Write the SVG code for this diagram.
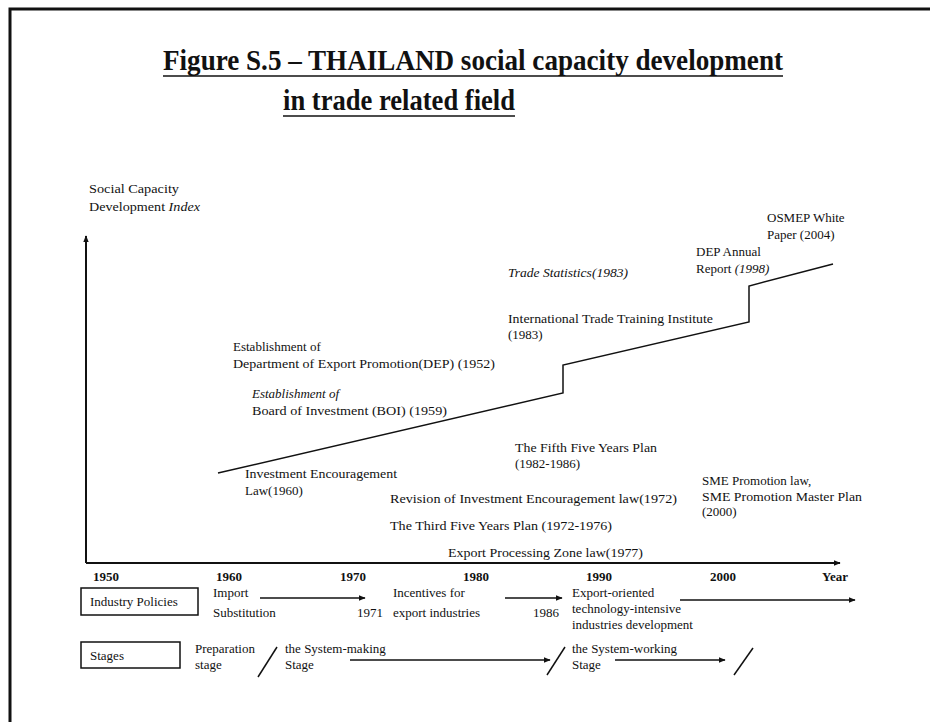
<svg xmlns="http://www.w3.org/2000/svg" width="930" height="722" viewBox="0 0 930 722">
<style>
.t{font-family:"Liberation Serif","Times New Roman",serif;font-size:13px;fill:#111}
.i{font-style:italic}
.b{font-weight:bold}
.title{font-family:"Liberation Serif","Times New Roman",serif;font-size:30px;font-weight:bold;fill:#111}
.ln{stroke:#111;stroke-width:1.5;fill:none}
.ax{stroke:#111;stroke-width:2;fill:none}
.box{stroke:#111;stroke-width:1.5;fill:none}
</style>
<defs>
<marker id="ah" viewBox="0 0 10 10" refX="9" refY="5" markerWidth="7" markerHeight="7" markerUnits="userSpaceOnUse" orient="auto">
<path d="M0,1 L10,5 L0,9 Z" fill="#111"/>
</marker>
</defs>
<rect width="930" height="722" fill="#fff"/>
<!-- frame -->
<path d="M10,722 L10,9 L930,9" stroke="#111" stroke-width="3" fill="none"/>
<!-- title -->
<g id="title">
<text class="title" x="163" y="70" textLength="620" lengthAdjust="spacingAndGlyphs">Figure S.5 – THAILAND social capacity development</text>
<line x1="163" y1="76" x2="783" y2="76" stroke="#111" stroke-width="1.5"/>
<text class="title" x="283" y="110" textLength="232" lengthAdjust="spacingAndGlyphs">in trade related field</text>
<line x1="283" y1="116" x2="515" y2="116" stroke="#111" stroke-width="1.5"/>
</g>
<g id="connectors">
<line class="ax" x1="86" y1="563" x2="86" y2="236" marker-end="url(#ah)"/>
<line class="ax" x1="86" y1="563" x2="840" y2="563" marker-end="url(#ah)"/>
<polyline class="ln" points="218,473 563,393 563,365 749,322 749,286 833,264"/>
<line class="ln" x1="260" y1="598" x2="365" y2="598" marker-end="url(#ah)"/>
<line class="ln" x1="505" y1="598" x2="562" y2="598" marker-end="url(#ah)"/>
<line class="ln" x1="680" y1="600" x2="855" y2="600" marker-end="url(#ah)"/>
<line class="ln" x1="350" y1="660" x2="550" y2="660" marker-end="url(#ah)"/>
<line class="ln" x1="615" y1="660" x2="725" y2="660" marker-end="url(#ah)"/>
<line class="ln" x1="258" y1="677" x2="277" y2="647"/>
<line class="ln" x1="547" y1="675" x2="565" y2="647"/>
<line class="ln" x1="734" y1="675" x2="753" y2="648"/>
</g>
<g id="y-axis-label">
<text class="t" x="89" y="193" textLength="90" lengthAdjust="spacingAndGlyphs">Social Capacity</text>
<text class="t" x="89" y="211" textLength="111" lengthAdjust="spacingAndGlyphs">Development <tspan class="i">Index</tspan></text>
</g>
<g id="x-axis-labels">
<text class="t b" x="93" y="581">1950</text>
<text class="t b" x="216" y="581">1960</text>
<text class="t b" x="340" y="581">1970</text>
<text class="t b" x="463" y="581">1980</text>
<text class="t b" x="586" y="581">1990</text>
<text class="t b" x="710" y="581">2000</text>
<text class="t b" x="822" y="581">Year</text>
</g>
<g id="n-dep">
<text class="t" x="233" y="351">Establishment of</text>
<text class="t" x="233" y="368" textLength="262" lengthAdjust="spacingAndGlyphs">Department of Export Promotion(DEP) (1952)</text>
</g>
<g id="n-boi">
<text class="t i" x="252" y="398">Establishment of</text>
<text class="t" x="252" y="415" textLength="195" lengthAdjust="spacingAndGlyphs">Board of Investment (BOI) (1959)</text>
</g>
<g id="n-iel">
<text class="t" x="245" y="478" textLength="152" lengthAdjust="spacingAndGlyphs">Investment Encouragement</text>
<text class="t" x="245" y="495">Law(1960)</text>
</g>
<g id="n-revision">
<text class="t" x="390" y="503" textLength="287" lengthAdjust="spacingAndGlyphs">Revision of Investment  Encouragement law(1972)</text>
</g>
<g id="n-third">
<text class="t" x="390" y="530" textLength="222" lengthAdjust="spacingAndGlyphs">The Third Five Years Plan (1972-1976)</text>
</g>
<g id="n-epz">
<text class="t" x="448" y="557" textLength="195" lengthAdjust="spacingAndGlyphs">Export Processing Zone law(1977)</text>
</g>
<g id="n-fifth">
<text class="t" x="515" y="452" textLength="142" lengthAdjust="spacingAndGlyphs">The Fifth Five Years Plan</text>
<text class="t" x="515" y="468">(1982-1986)</text>
</g>
<g id="n-sme">
<text class="t" x="702" y="485">SME Promotion law,</text>
<text class="t" x="702" y="501" textLength="160" lengthAdjust="spacingAndGlyphs">SME Promotion Master Plan</text>
<text class="t" x="702" y="516">(2000)</text>
</g>
<g id="n-trade-stats">
<text class="t i" x="508" y="277" textLength="120" lengthAdjust="spacingAndGlyphs">Trade Statistics(1983)</text>
</g>
<g id="n-ittl">
<text class="t" x="508" y="323" textLength="205" lengthAdjust="spacingAndGlyphs">International Trade Training Institute</text>
<text class="t" x="508" y="339">(1983)</text>
</g>
<g id="n-dep-report">
<text class="t" x="696" y="256">DEP Annual</text>
<text class="t" x="696" y="273">Report <tspan class="i">(1998)</tspan></text>
</g>
<g id="n-osmep">
<text class="t" x="767" y="222">OSMEP White</text>
<text class="t" x="767" y="239">Paper (2004)</text>
</g>
<g id="n-industry-policies">
<rect class="box" x="81" y="588" width="117" height="27"/>
<text class="t" x="90" y="606">Industry Policies</text>
</g>
<g id="n-import-sub">
<text class="t" x="213" y="597">Import</text>
<text class="t" x="213" y="617">Substitution</text>
</g>
<g id="n-1971"><text class="t" x="357" y="617">1971</text></g>
<g id="n-incentives">
<text class="t" x="393" y="597">Incentives for</text>
<text class="t" x="393" y="617">export industries</text>
</g>
<g id="n-1986"><text class="t" x="533" y="617">1986</text></g>
<g id="n-export-oriented">
<text class="t" x="572" y="597">Export-oriented</text>
<text class="t" x="572" y="613">technology-intensive</text>
<text class="t" x="572" y="629">industries development</text>
</g>
<g id="n-stages">
<rect class="box" x="81" y="642" width="99" height="26"/>
<text class="t" x="90" y="660">Stages</text>
</g>
<g id="n-preparation">
<text class="t" x="195" y="653">Preparation</text>
<text class="t" x="195" y="669">stage</text>
</g>
<g id="n-system-making">
<text class="t" x="285" y="653">the System-making</text>
<text class="t" x="285" y="669">Stage</text>
</g>
<g id="n-system-working">
<text class="t" x="572" y="653">the System-working</text>
<text class="t" x="572" y="669">Stage</text>
</g>
</svg>
